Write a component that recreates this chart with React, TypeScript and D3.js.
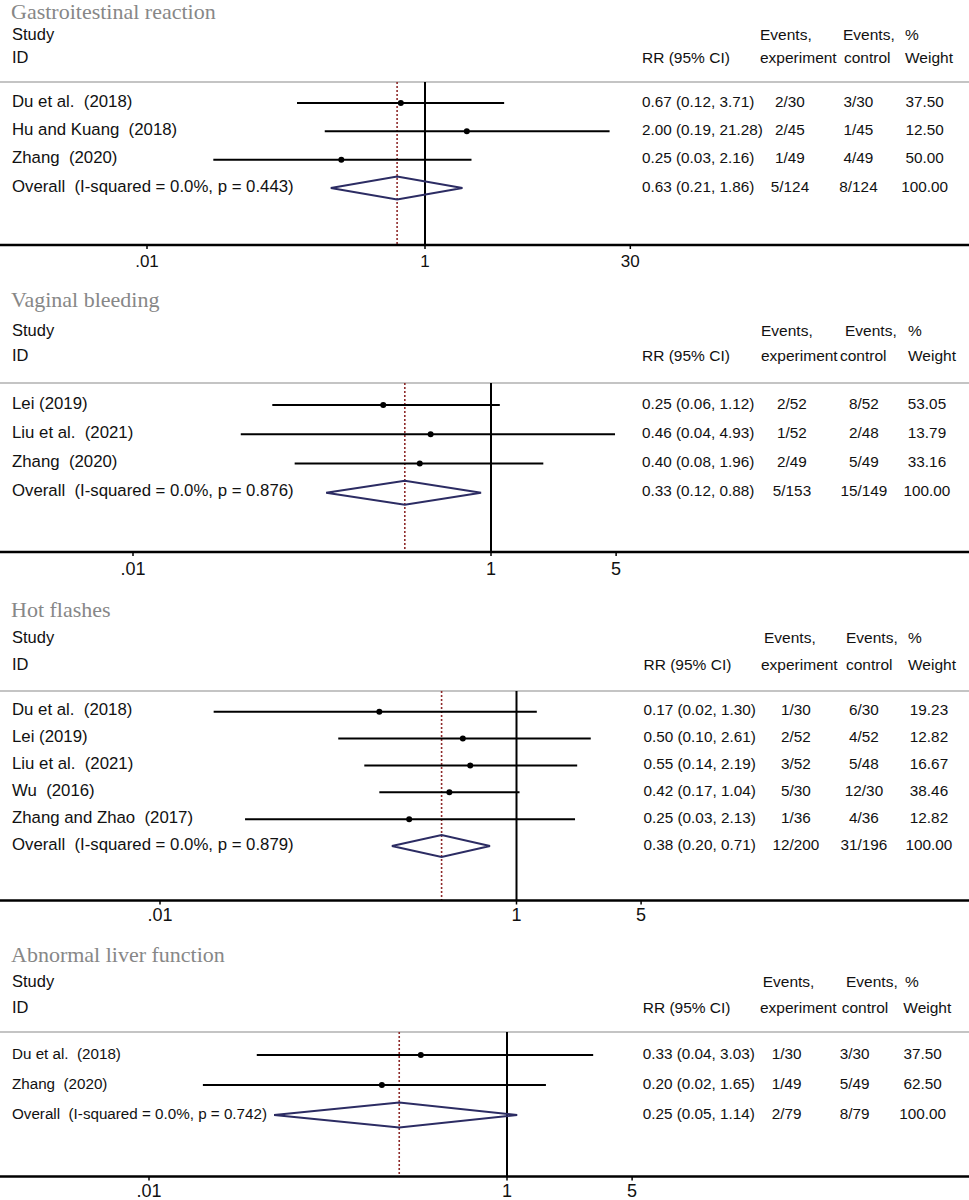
import { useEffect, useRef } from 'react'
import * as d3 from 'd3'

// Gastroitestinal reaction
const giStudies = ['Du et al.  (2018)', 'Hu and Kuang  (2018)', 'Zhang  (2020)', 'Overall  (I-squared = 0.0%, p = 0.443)']
const giRR = [0.67, 2.0, 0.25, 0.63]
const giLow = [0.12, 0.19, 0.03, 0.21]
const giHigh = [3.71, 21.28, 2.16, 1.86]
const giExp = ['2/30', '2/45', '1/49', '5/124']
const giCtrl = ['3/30', '1/45', '4/49', '8/124']
const giWeight = ['37.50', '12.50', '50.00', '100.00']

// Vaginal bleeding
const vbStudies = ['Lei (2019)', 'Liu et al.  (2021)', 'Zhang  (2020)', 'Overall  (I-squared = 0.0%, p = 0.876)']
const vbRR = [0.25, 0.46, 0.4, 0.33]
const vbLow = [0.06, 0.04, 0.08, 0.12]
const vbHigh = [1.12, 4.93, 1.96, 0.88]
const vbExp = ['2/52', '1/52', '2/49', '5/153']
const vbCtrl = ['8/52', '2/48', '5/49', '15/149']
const vbWeight = ['53.05', '13.79', '33.16', '100.00']

// Hot flashes
const hfStudies = ['Du et al.  (2018)', 'Lei (2019)', 'Liu et al.  (2021)', 'Wu  (2016)', 'Zhang and Zhao  (2017)', 'Overall  (I-squared = 0.0%, p = 0.879)']
const hfRR = [0.17, 0.5, 0.55, 0.42, 0.25, 0.38]
const hfLow = [0.02, 0.1, 0.14, 0.17, 0.03, 0.2]
const hfHigh = [1.3, 2.61, 2.19, 1.04, 2.13, 0.71]
const hfExp = ['1/30', '2/52', '3/52', '5/30', '1/36', '12/200']
const hfCtrl = ['6/30', '4/52', '5/48', '12/30', '4/36', '31/196']
const hfWeight = ['19.23', '12.82', '16.67', '38.46', '12.82', '100.00']

// Abnormal liver function
const alStudies = ['Du et al.  (2018)', 'Zhang  (2020)', 'Overall  (I-squared = 0.0%, p = 0.742)']
const alRR = [0.33, 0.2, 0.25]
const alLow = [0.04, 0.02, 0.05]
const alHigh = [3.03, 1.65, 1.14]
const alExp = ['1/30', '1/49', '2/79']
const alCtrl = ['3/30', '5/49', '8/79']
const alWeight = ['37.50', '62.50', '100.00']

const titles = ['Gastroitestinal reaction', 'Vaginal bleeding', 'Hot flashes', 'Abnormal liver function']
const tickSets = [[0.01, 1, 30], [0.01, 1, 5], [0.01, 1, 5], [0.01, 1, 5]]
const tickLabels = [['.01', '1', '30'], ['.01', '1', '5'], ['.01', '1', '5'], ['.01', '1', '5']]

const data = [
  { studies: giStudies, rr: giRR, low: giLow, high: giHigh, exp: giExp, ctrl: giCtrl, weight: giWeight },
  { studies: vbStudies, rr: vbRR, low: vbLow, high: vbHigh, exp: vbExp, ctrl: vbCtrl, weight: vbWeight },
  { studies: hfStudies, rr: hfRR, low: hfLow, high: hfHigh, exp: hfExp, ctrl: hfCtrl, weight: hfWeight },
  { studies: alStudies, rr: alRR, low: alLow, high: alHigh, exp: alExp, ctrl: alCtrl, weight: alWeight },
]

// layout of each panel (pixels)
const layout = [
  { titleY: 19, studyY: 40, idY: 63, sepY: 82, firstRow: 103, lastRow: 188, axisY: 245, tickY: 267, x01: 147, x1: 425, dh: 11.5, labelFs: 16.8,
    rrX: 642, ev1X: 760, ev2X: 843, pctX: 905, expHX: 760, ctrlHX: 844, wHX: 905, expX: 790, ctrlX: 858.5, wX: 924.7, tickFs: 17 },
  { titleY: 307, studyY: 336, idY: 361, sepY: 383, firstRow: 405, lastRow: 492.7, axisY: 552, tickY: 575, x01: 133, x1: 491, dh: 12, labelFs: 16.8,
    rrX: 642, ev1X: 761, ev2X: 845, pctX: 908, expHX: 761, ctrlHX: 840, wHX: 908, expX: 792, ctrlX: 864, wX: 927, tickFs: 18 },
  { titleY: 617, studyY: 643, idY: 670, sepY: 691, firstRow: 711.7, lastRow: 846, axisY: 900.5, tickY: 921, x01: 160, x1: 516.5, dh: 11, labelFs: 16.8,
    rrX: 643.5, ev1X: 764, ev2X: 846, pctX: 908, expHX: 761, ctrlHX: 846, wHX: 908, expX: 796, ctrlX: 864, wX: 929, tickFs: 18 },
  { titleY: 962, studyY: 987, idY: 1013, sepY: 1032, firstRow: 1055, lastRow: 1115, axisY: 1176.5, tickY: 1197, x01: 149, x1: 507, dh: 12.5, labelFs: 15.2,
    rrX: 642.7, ev1X: 762.7, ev2X: 846, pctX: 905, expHX: 760, ctrlHX: 841.7, wHX: 903.3, expX: 786.7, ctrlX: 854.7, wX: 922.7, tickFs: 18 },
]

const W = 969
const H = 1200
const sans = 'Arial, "Liberation Sans", Helvetica, sans-serif'
const serif = '"Times New Roman", "Liberation Serif", serif'

export default function App() {
  const svgRef = useRef<SVGSVGElement>(null)

  useEffect(() => {
    if (!svgRef.current) return
    const svg = d3.select(svgRef.current)
    svg.selectAll('*').remove()

    svg.append('rect').attr('width', W).attr('height', H).attr('fill', 'white')

    data.forEach((d, p) => {
      const L = layout[p]
      const g = svg.append('g')
      const n = d.studies.length
      const x = d3.scaleLog().domain([0.01, 1]).range([L.x01, L.x1])
      const y = d3.scaleLinear().domain([0, n - 1]).range([L.firstRow, L.lastRow])
      const fmt = d3.format('.2f')

      // title
      g.append('text')
        .attr('x', 11)
        .attr('y', L.titleY)
        .attr('font-family', serif)
        .attr('font-size', 22)
        .attr('fill', '#878787')
        .text(titles[p])

      const hdr = (tx: number, ty: number, s: string) =>
        g.append('text')
          .attr('x', tx)
          .attr('y', ty)
          .attr('font-family', sans)
          .attr('font-size', 15.5)
          .attr('fill', '#111')
          .text(s)

      hdr(12, L.studyY, 'Study').attr('font-size', 16.5)
      hdr(12, L.idY, 'ID').attr('font-size', 16.5)
      hdr(L.rrX, L.idY, 'RR (95% CI)')
      hdr(L.ev1X, L.studyY, 'Events,')
      hdr(L.ev2X, L.studyY, 'Events,')
      hdr(L.pctX, L.studyY, '%')
      hdr(L.expHX, L.idY, 'experiment')
      hdr(L.ctrlHX, L.idY, 'control')
      hdr(L.wHX, L.idY, 'Weight')

      // separator
      g.append('line')
        .attr('x1', 0).attr('x2', W)
        .attr('y1', L.sepY).attr('y2', L.sepY)
        .attr('stroke', '#c4c4c4')
        .attr('stroke-width', 2)

      // null line
      g.append('line')
        .attr('x1', x(1)).attr('x2', x(1))
        .attr('y1', L.sepY).attr('y2', L.axisY)
        .attr('stroke', '#000')
        .attr('stroke-width', 2)

      // overall effect dotted line
      const ov = n - 1
      g.append('line')
        .attr('x1', x(d.rr[ov])).attr('x2', x(d.rr[ov]))
        .attr('y1', L.sepY).attr('y2', L.axisY)
        .attr('stroke', '#8e2a2a')
        .attr('stroke-width', 1.6)
        .attr('stroke-dasharray', '2,2')

      // study CIs
      const idx = d3.range(n - 1)
      g.selectAll('.ci')
        .data(idx)
        .enter()
        .append('line')
        .attr('x1', i => x(d.low[i]))
        .attr('x2', i => x(d.high[i]))
        .attr('y1', i => y(i))
        .attr('y2', i => y(i))
        .attr('stroke', '#000')
        .attr('stroke-width', 2)

      g.selectAll('.pt')
        .data(idx)
        .enter()
        .append('circle')
        .attr('cx', i => x(d.rr[i]))
        .attr('cy', i => y(i))
        .attr('r', 3)
        .attr('fill', '#000')

      // diamond
      const dy = y(ov)
      const diamond = d3.line<[number, number]>()
      g.append('path')
        .attr('d', diamond([
          [x(d.low[ov]), dy],
          [x(d.rr[ov]), dy - L.dh],
          [x(d.high[ov]), dy],
          [x(d.rr[ov]), dy + L.dh],
        ]) + 'Z')
        .attr('fill', 'none')
        .attr('stroke', '#2c2c63')
        .attr('stroke-width', 2)

      // row texts
      const rowText = (tx: number, anchor: string, fs: number, get: (i: number) => string) =>
        g.selectAll(null)
          .data(d3.range(n))
          .enter()
          .append('text')
          .attr('x', tx)
          .attr('y', i => y(i) + 3.5)
          .attr('text-anchor', anchor)
          .attr('font-family', sans)
          .attr('font-size', fs)
          .attr('fill', '#111')
          .style('white-space', 'pre')
          .text(get)

      rowText(12, 'start', L.labelFs, i => d.studies[i])
      rowText(L.rrX, 'start', 15.3, i => `${fmt(d.rr[i])} (${fmt(d.low[i])}, ${fmt(d.high[i])})`)
      rowText(L.expX, 'middle', 15.3, i => d.exp[i])
      rowText(L.ctrlX, 'middle', 15.3, i => d.ctrl[i])
      rowText(L.wX, 'middle', 15.3, i => d.weight[i])

      // axis
      g.append('line')
        .attr('x1', 0).attr('x2', W)
        .attr('y1', L.axisY).attr('y2', L.axisY)
        .attr('stroke', '#000')
        .attr('stroke-width', 2.5)

      const ticks = tickSets[p]
      g.selectAll('.tick')
        .data(ticks)
        .enter()
        .append('line')
        .attr('x1', t => x(t)).attr('x2', t => x(t))
        .attr('y1', L.axisY).attr('y2', L.axisY + 4)
        .attr('stroke', '#000')
        .attr('stroke-width', 1.5)

      g.selectAll('.ticklabel')
        .data(ticks)
        .enter()
        .append('text')
        .attr('x', t => x(t))
        .attr('y', L.tickY)
        .attr('text-anchor', 'middle')
        .attr('font-family', sans)
        .attr('font-size', L.tickFs)
        .attr('fill', '#111')
        .text((_, i) => tickLabels[p][i])
    })
  }, [])

  return (
    <svg
      ref={svgRef}
      width={W}
      height={H}
      style={{ position: 'absolute', left: 0, top: 0 }}
    />
  )
}
